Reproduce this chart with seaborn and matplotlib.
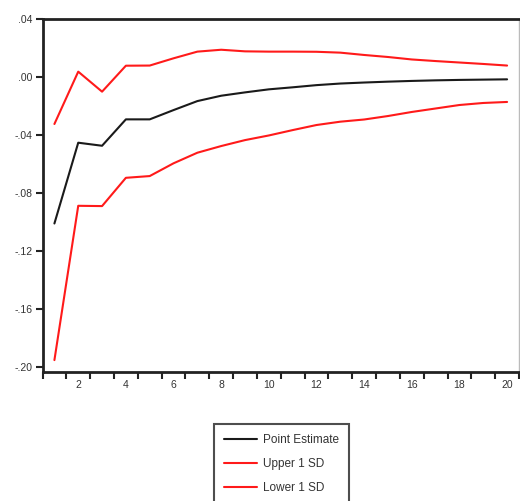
import matplotlib
matplotlib.use("Agg")
import matplotlib.pyplot as plt
from matplotlib.ticker import FixedLocator, NullFormatter, FuncFormatter
import seaborn as sns
import pandas as pd

periods = list(range(1, 21))
point_estimate = [-0.101, -0.0453, -0.0474, -0.0292, -0.0292, -0.0228, -0.0166, -0.0129,
                  -0.0106, -0.0085, -0.0071, -0.0056, -0.0045, -0.0038, -0.0032, -0.0027,
                  -0.0023, -0.0020, -0.0018, -0.0016]
upper_1sd = [-0.0324, 0.0037, -0.0101, 0.0078, 0.0079, 0.0129, 0.0175, 0.0188,
             0.0177, 0.0175, 0.0175, 0.0174, 0.0168, 0.0152, 0.0138, 0.0121,
             0.0110, 0.0100, 0.0090, 0.0079]
lower_1sd = [-0.1952, -0.0888, -0.0890, -0.0695, -0.0683, -0.0595, -0.0522, -0.0476,
             -0.0435, -0.0403, -0.0366, -0.0331, -0.0308, -0.0293, -0.0269, -0.0241,
             -0.0217, -0.0193, -0.0179, -0.0172]
series_names = ["Point Estimate", "Upper 1 SD", "Lower 1 SD"]
series_colors = ["#1a1a1a", "#ff1a1a", "#ff1a1a"]
y_ticks = [0.04, 0.00, -0.04, -0.08, -0.12, -0.16, -0.20]
x_labels = list(range(2, 21, 2))

df = pd.DataFrame({
    "period": periods * 3,
    "value": point_estimate + upper_1sd + lower_1sd,
    "series": [series_names[0]] * 20 + [series_names[1]] * 20 + [series_names[2]] * 20,
})

sns.set_theme(style="white")
plt.rcParams["font.family"] = ["Liberation Sans Narrow", "Liberation Sans", "DejaVu Sans"]

W, H = 520, 501
fig = plt.figure(figsize=(W / 100, H / 100), dpi=100)
ax = fig.add_axes([42.5 / W, 1 - 372 / H, (519 - 42.5) / W, (372 - 19) / H])

sns.lineplot(data=df, x="period", y="value", hue="series", hue_order=series_names,
             palette=dict(zip(series_names, series_colors)), linewidth=1.5,
             ax=ax, legend=True)

ax.set_xlim(0.5, 20.5)
ax.set_ylim(-0.2034, 0.04)
ax.set_xlabel("")
ax.set_ylabel("")

def fmt(v, pos):
    s = f"{v:.2f}"
    return s.replace("0.", ".")

ax.yaxis.set_major_locator(FixedLocator(y_ticks))
ax.yaxis.set_major_formatter(FuncFormatter(fmt))
ax.xaxis.set_major_locator(FixedLocator(x_labels))
ax.xaxis.set_minor_locator(FixedLocator([p + 0.5 for p in range(0, 21)]))
ax.xaxis.set_minor_formatter(NullFormatter())

ax.tick_params(axis="y", which="major", direction="out", length=5, width=1.5,
               color="#222222", labelsize=7.5, labelcolor="#333333", pad=2, left=True)
ax.tick_params(axis="x", which="major", length=0, labelsize=7.5, labelcolor="#333333", pad=6,
               bottom=True)
ax.tick_params(axis="x", which="minor", direction="out", length=5, width=1.5,
               color="#222222", bottom=True)

for side in ["left", "bottom", "top"]:
    ax.spines[side].set_color("#222222")
    ax.spines[side].set_linewidth(2)
ax.spines["right"].set_color("#bbbbbb")
ax.spines["right"].set_linewidth(1)

handles, labels = ax.get_legend_handles_labels()
ax.legend_.remove()
leg = fig.legend(handles, labels, loc="upper left",
                 bbox_to_anchor=(214 / W, 1 - 424 / H), frameon=True, fancybox=False,
                 fontsize=8.5, handlelength=2.8, handletextpad=0.5, labelspacing=1.03,
                 borderpad=0.85, borderaxespad=0)
leg.get_frame().set_edgecolor("#222222")
leg.get_frame().set_linewidth(1.5)
for t in leg.get_texts():
    t.set_color("#333333")

fig.savefig("out.png", dpi=100)
